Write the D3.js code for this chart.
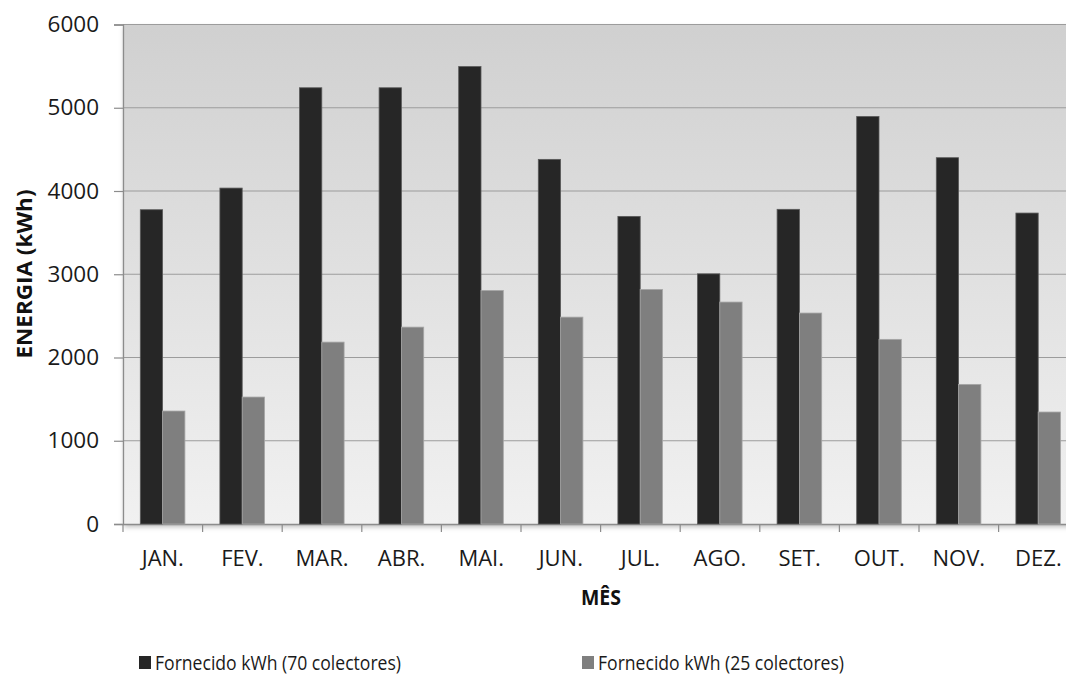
<!DOCTYPE html>
<html>
<head>
<meta charset="utf-8">
<script src="https://cdn.jsdelivr.net/npm/d3@7"></script>
<style>
  html, body { margin: 0; padding: 0; background: #ffffff; }
  svg { display: block; font-family: "Open Sans", "DejaVu Sans", sans-serif; }
</style>
</head>
<body>
<svg id="chart" width="1066" height="680"></svg>
<script>
// Monthly energy supplied by the solar system, two collector configurations
const months = ["JAN.", "FEV.", "MAR.", "ABR.", "MAI.", "JUN.", "JUL.", "AGO.", "SET.", "OUT.", "NOV.", "DEZ."];
const supplied70 = [3775, 4035, 5240, 5240, 5495, 4380, 3695, 3005, 3780, 4895, 4400, 3735];
const supplied25 = [1357, 1525, 2185, 2365, 2805, 2485, 2818, 2666, 2534, 2218, 1677, 1345];
const seriesNames = ["Fornecido kWh (70 colectores)", "Fornecido kWh (25 colectores)"];
const yTicks = [0, 1000, 2000, 3000, 4000, 5000, 6000];

const svg = d3.select("#chart");

// Plot area (the right part runs past the visible page edge)
const plotLeft = 123, plotTop = 24.5, plotBottom = 524, bandW = 79.6;
const plotRight = plotLeft + bandW * months.length;

const x = d3.scaleBand().domain(months).range([plotLeft, plotRight]).paddingInner(0).paddingOuter(0);
const y = d3.scaleLinear().domain([0, 6000]).range([plotBottom, plotTop]);
const inner = d3.scaleBand().domain([0, 1]).range([17.3, 17.3 + 44.6]);

const defs = svg.append("defs");
const grad = defs.append("linearGradient").attr("id", "plotBg")
  .attr("x1", 0).attr("y1", 0).attr("x2", 0).attr("y2", 1);
grad.append("stop").attr("offset", "0%").attr("stop-color", "#d0d0d0");
grad.append("stop").attr("offset", "100%").attr("stop-color", "#f1f1f1");

const shadow = defs.append("filter").attr("id", "plotShadow")
  .attr("x", "-5%").attr("y", "-5%").attr("width", "110%").attr("height", "110%");
shadow.append("feDropShadow").attr("dx", 1).attr("dy", 3).attr("stdDeviation", 2.5)
  .attr("flood-color", "#000").attr("flood-opacity", 0.25);

// Plot background
svg.append("rect")
  .attr("x", plotLeft).attr("y", plotTop)
  .attr("width", plotRight - plotLeft).attr("height", plotBottom - plotTop)
  .attr("fill", "url(#plotBg)")
  .attr("filter", "url(#plotShadow)");

// Horizontal gridlines
svg.append("g")
  .selectAll("line")
  .data(yTicks.filter(d => d > 0))
  .join("line")
  .attr("x1", plotLeft).attr("x2", plotRight)
  .attr("y1", d => y(d)).attr("y2", d => y(d))
  .attr("stroke", "#9c9c9c").attr("stroke-width", 1.2);

// Y axis
const yAxis = svg.append("g")
  .attr("transform", `translate(${plotLeft},0)`)
  .call(d3.axisLeft(y).tickValues(yTicks).tickSize(9).tickPadding(15).tickFormat(d3.format("d")));
yAxis.select(".domain").attr("stroke", "#8c8c8c").attr("stroke-width", 1.3);
yAxis.selectAll(".tick line").attr("stroke", "#8c8c8c").attr("stroke-width", 1.2);
yAxis.selectAll(".tick text")
  .attr("fill", "#1a1a1a").attr("font-size", 22.5)
  .attr("font-family", "\"Open Sans\", sans-serif");

// X axis (ticks sit on the band boundaries)
const xAxis = svg.append("g")
  .attr("transform", `translate(0,${plotBottom})`)
  .call(d3.axisBottom(x).tickSize(0).tickPadding(26));
xAxis.select(".domain").attr("stroke", "#8c8c8c").attr("stroke-width", 1.3);
xAxis.selectAll(".tick text")
  .attr("fill", "#1a1a1a").attr("font-size", 22)
  .attr("font-family", "\"Open Sans\", sans-serif");
svg.append("g")
  .selectAll("line")
  .data(months)
  .join("line")
  .attr("x1", d => x(d)).attr("x2", d => x(d))
  .attr("y1", plotBottom).attr("y2", plotBottom + 8)
  .attr("stroke", "#8c8c8c").attr("stroke-width", 1.2);

// Bars
const colors = ["#262626", "#7f7f7f"];
const strokes = ["#5a5a5a", "#a6a6a6"];
const series = [supplied70, supplied25];
series.forEach((vals, si) => {
  svg.append("g")
    .selectAll("rect")
    .data(vals)
    .join("rect")
    .attr("x", (d, i) => x(months[i]) + inner(si))
    .attr("width", inner.bandwidth())
    .attr("y", d => y(d))
    .attr("height", d => y(0) - y(d))
    .attr("fill", colors[si])
    .attr("stroke", strokes[si])
    .attr("stroke-width", 0.8);
});

// Axis titles
svg.append("text")
  .attr("transform", `translate(32,274) rotate(-90)`)
  .attr("text-anchor", "middle")
  .attr("font-size", 21.5).attr("font-weight", "bold").attr("fill", "#111")
  .attr("textLength", 169).attr("lengthAdjust", "spacingAndGlyphs")
  .text("ENERGIA (kWh)");

svg.append("text")
  .attr("x", 601).attr("y", 605)
  .attr("text-anchor", "middle")
  .attr("font-size", 20.5).attr("font-weight", "bold").attr("fill", "#111")
  .attr("textLength", 40).attr("lengthAdjust", "spacingAndGlyphs")
  .text("MÊS");

// Legend
const legendX = [139, 582];
const legend = svg.append("g");
seriesNames.forEach((name, i) => {
  legend.append("rect")
    .attr("x", legendX[i]).attr("y", 656)
    .attr("width", 12).attr("height", 13)
    .attr("fill", colors[i]);
  legend.append("text")
    .attr("x", legendX[i] + 16).attr("y", 670)
    .attr("font-size", 19.5).attr("fill", "#1a1a1a")
    .attr("textLength", 246).attr("lengthAdjust", "spacingAndGlyphs")
    .text(name);
});
</script>
</body>
</html>
